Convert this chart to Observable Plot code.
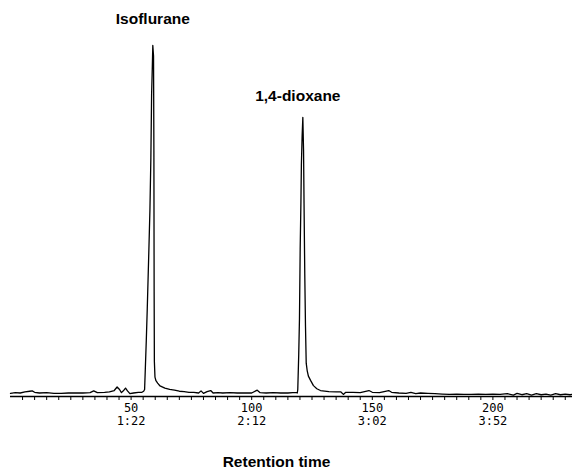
<!DOCTYPE html>
<html>
<head>
<meta charset="utf-8">
<script src="https://cdn.jsdelivr.net/npm/d3@7"></script>
<script src="https://cdn.jsdelivr.net/npm/@observablehq/plot@0.6"></script>
<style>
  html, body { margin: 0; padding: 0; background: #fff; }
  #chart { width: 572px; height: 473px; }
</style>
</head>
<body>
<div id="chart"></div>
<script>
// Retention (scan units) and detector response (relative, isoflurane peak = 100)
const retention = [
  0, 2, 4, 6, 8, 9, 10, 12, 15, 18, 21, 24, 27, 30, 33, 34.5, 36, 39, 41, 43,
  44.2, 45.2, 46, 47, 47.7, 48.5, 49.5, 51, 53, 54.5, 55.2,
  55.6, 55.9, 56.3, 56.7, 57.3, 57.8, 58.2, 58.5, 58.8, 59.0, 59.3, 59.45, 59.55, 59.65, 59.9, 60.3, 61, 62, 64, 66, 68,
  70, 72, 74, 76, 78, 79, 80, 81.5, 83, 84, 86, 88, 91, 94, 97, 100, 102.3, 103.5, 106, 109, 112, 115, 117, 118.6,
  118.9, 119.1, 119.5, 119.8, 120.1, 120.4, 120.6, 120.9, 121.2, 121.5, 121.7, 122.0, 122.3, 122.6, 123.0, 123.5, 124.4, 125.6, 127, 128.5,
  132, 135, 137, 138, 139, 142, 145, 148.6, 150, 153, 156.8, 158, 161, 164, 166, 168, 170, 173, 176, 179,
  182, 185, 188, 191, 194, 197, 200, 203, 206, 208.5, 210, 212, 214, 216, 218, 220, 222, 224, 226, 228, 230, 232, 233
];
const response = [
  0.9, 1.1, 1.0, 1.3, 1.5, 1.6, 1.2, 1.0, 1.1, 0.9, 0.9, 1.0, 1.0, 1.0, 1.1, 1.6, 1.1, 1.2, 1.3, 1.7,
  2.7, 2.0, 1.1, 1.8, 2.4, 1.6, 0.8, 1.0, 1.2, 1.2, 1.5,
  2.0, 8, 16, 25, 40, 53, 68, 86, 94, 100, 97, 70, 30, 10, 5.5, 4.5, 3.8, 3.0, 2.4, 2.0, 1.8,
  1.5, 1.4, 1.2, 1.2, 1.0, 1.6, 0.9, 1.4, 1.7, 1.0, 1.1, 1.0, 1.1, 1.0, 1.0, 1.0, 1.8, 1.1, 1.0, 1.1, 1.0, 1.0, 1.1, 1.1,
  1.0, 2, 12, 22, 42, 55, 66, 74, 79.5, 70, 55, 35, 20, 9.5, 7.4, 5.8, 4.6, 3.1, 2.2, 1.7,
  1.4, 1.3, 1.3, 0.6, 1.2, 1.2, 1.1, 1.7, 1.2, 1.1, 1.7, 1.2, 1.0, 0.9, 1.2, 0.8, 1.0, 0.9, 0.8, 0.7,
  0.6, 0.7, 0.6, 0.6, 0.7, 0.6, 0.7, 0.6, 0.8, 0.4, 0.9, 0.5, 0.8, 0.4, 0.8, 0.5, 0.7, 0.4, 0.8, 0.5, 0.7, 0.5, 0.6
];

// Peak annotations
const peakNames = ["Isoflurane", "1,4-dioxane"];
const peakRetention = [59.0, 121.2];
const peakHeight = [100, 79.5];

// Axis ticks
const minorTicks = d3.range(5, 235, 5);
const majorTicks = [50, 100, 150, 200];
const timeLabels = ["1:22", "2:12", "3:02", "3:52"];
const xLabel = "Retention time";

const trace = retention.map((x, i) => ({x, y: response[i]}));
const peaks = peakNames.map((name, i) => ({name, x: peakRetention[i], y: peakHeight[i]}));
const majors = majorTicks.map((v, i) => ({x: v, scan: String(v), time: timeLabels[i]}));

const tickFont = "DejaVu Sans Mono, monospace";
const labelFont = "Liberation Sans, Arial, sans-serif";

const chart = Plot.plot({
  width: 572,
  height: 473,
  marginLeft: 10,
  marginRight: 0,
  marginTop: 45,
  marginBottom: 77,
  style: {background: "#fff", color: "#000"},
  x: {domain: [0, 233], axis: null},
  y: {domain: [0, 100], axis: null},
  marks: [
    Plot.axisX(minorTicks, {tickSize: 4, tickFormat: () => "", label: null, stroke: "#000", strokeWidth: 1}),
    Plot.ruleY([0], {stroke: "#000", strokeWidth: 1.5}),
    Plot.text(majors, {
      x: "x", frameAnchor: "bottom", text: "scan", dy: 15,
      fontFamily: tickFont, fontSize: 12, fill: "#000"
    }),
    Plot.text(majors, {
      x: "x", frameAnchor: "bottom", text: "time", dy: 28,
      fontFamily: tickFont, fontSize: 12, fill: "#000"
    }),
    Plot.line(trace, {x: "x", y: "y", stroke: "#000", strokeWidth: 1.3, curve: "linear"}),
    Plot.text(peaks.slice(0, 1), {
      x: "x", y: "y", text: "name", dy: -26,
      fontFamily: labelFont, fontWeight: "bold", fontSize: 15.5, fill: "#000"
    }),
    Plot.text(peaks.slice(1), {
      x: "x", y: "y", text: "name", dx: -5, dy: -21,
      fontFamily: labelFont, fontWeight: "bold", fontSize: 15.5, fill: "#000"
    }),
    Plot.text([xLabel], {
      frameAnchor: "bottom", text: d => d, dx: -15, dy: 70,
      fontFamily: labelFont, fontWeight: "bold", fontSize: 15.5, fill: "#000"
    })
  ]
});
document.getElementById("chart").appendChild(chart);
</script>
</body>
</html>
